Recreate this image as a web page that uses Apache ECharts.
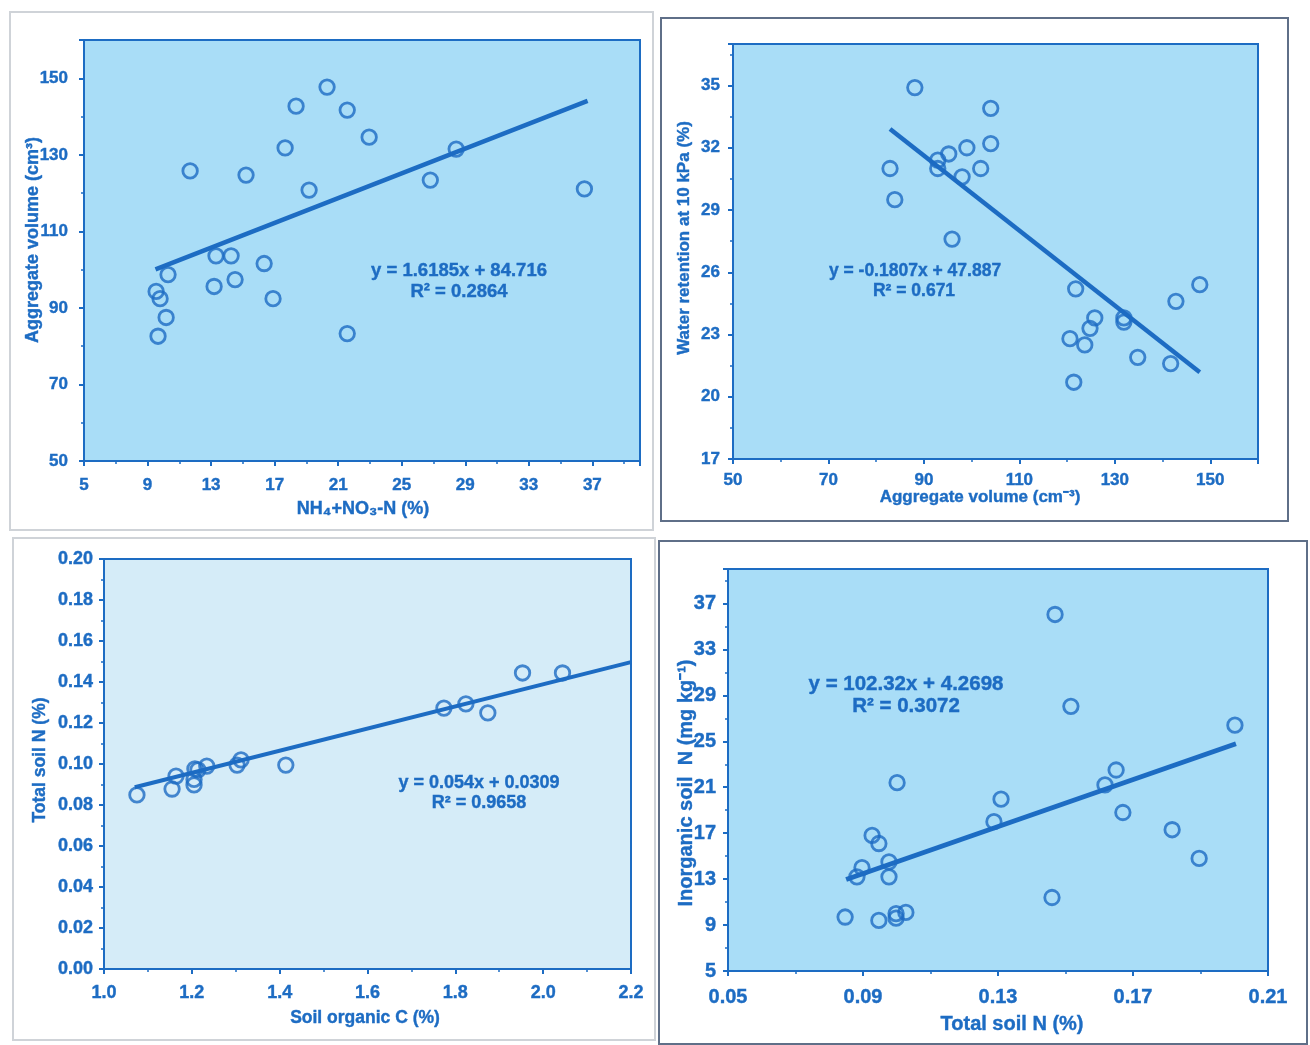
<!DOCTYPE html>
<html>
<head>
<meta charset="utf-8">
<title>Soil aggregate and nitrogen relationships</title>
<script src="https://cdn.jsdelivr.net/npm/echarts@6/dist/echarts.min.js"></script>
<style>
  html, body { margin: 0; padding: 0; background: #ffffff; }
  #chart { width: 1310px; height: 1045px; }
</style>
</head>
<body>
<div id="chart"></div>
<script>
// Panel A: NH4+NO3-N vs aggregate volume
const nitrateX = [9.54, 9.79, 9.66, 10.17, 10.29, 11.68, 13.19, 13.31, 14.26, 14.51, 15.2, 16.34, 16.9, 17.66, 18.35, 19.17, 20.3, 21.57, 21.57, 22.95, 26.8, 28.43, 36.5];
const aggVolY  = [94.3, 92.4, 82.6, 87.5, 98.7, 125.8, 95.6, 103.6, 103.6, 97.4, 124.7, 101.6, 92.4, 131.8, 142.7, 120.8, 147.7, 141.7, 83.3, 134.6, 123.4, 131.5, 121.1];
const fitA = { slope: 1.6185, intercept: 84.716, r2: '0.2864', from: 9.5, to: 36.7 };

// Panel B: aggregate volume vs water retention at 10 kPa
const aggVolX   = [88.1, 104.0, 104.0, 99.0, 95.2, 92.9, 92.9, 82.9, 101.9, 98.0, 83.9, 95.9, 121.8, 142.8, 147.8, 125.8, 131.9, 131.9, 124.8, 120.6, 123.7, 134.8, 141.7, 121.4];
const waterRetY = [34.9, 33.9, 32.2, 32.0, 31.7, 31.4, 31.0, 31.0, 31.0, 30.6, 29.5, 27.6, 25.2, 24.6, 25.4, 23.8, 23.8, 23.6, 23.3, 22.8, 22.5, 21.9, 21.6, 20.7];
const fitB = { slope: -0.1807, intercept: 47.887, r2: '0.671', from: 82.9, to: 147.8 };

// Panel C: soil organic C vs total soil N
const orgCX   = [1.075, 1.155, 1.164, 1.205, 1.205, 1.207, 1.214, 1.234, 1.303, 1.312, 1.414, 1.774, 1.824, 1.874, 1.953, 2.044];
const totalNY = [0.0849, 0.0878, 0.0941, 0.0898, 0.0925, 0.0976, 0.0971, 0.099, 0.0995, 0.102, 0.0995, 0.1273, 0.1293, 0.1249, 0.1444, 0.1444];
const fitC = { slope: 0.054, intercept: 0.0309, r2: '0.9658', from: 1.07, to: 2.2 };

// Panel D: total soil N vs inorganic soil N
const totalNX  = [0.1469, 0.1516, 0.2002, 0.165, 0.1617, 0.1001, 0.1309, 0.167, 0.1288, 0.1816, 0.0927, 0.0947, 0.1896, 0.0897, 0.0977, 0.0977, 0.0882, 0.146, 0.0847, 0.0947, 0.0998, 0.0998, 0.1027];
const inorgNY  = [36.04, 28.04, 26.4, 22.5, 21.2, 21.4, 19.96, 18.8, 18.0, 17.3, 16.8, 16.1, 14.8, 14.0, 14.5, 13.2, 13.2, 11.4, 9.7, 9.4, 10.0, 9.6, 10.1];
const fitD = { slope: 102.32, intercept: 4.2698, r2: '0.3072', from: 0.085, to: 0.2005 };

// Axis tick settings: [min, max, interval, decimals]
const ticksAx = [5, 40, 4, 0],      ticksAy = [50, 160, 20, 0];
const ticksBx = [50, 160, 20, 0],   ticksBy = [17, 37, 3, 0];
const ticksCx = [1.0, 2.2, 0.2, 1], ticksCy = [0, 0.2, 0.02, 2];
const ticksDx = [0.05, 0.21, 0.04, 2], ticksDy = [5, 40, 4, 0];

const BLUE = '#1d6cc3';
const FONT = "'Liberation Sans', Arial, sans-serif";

function zip(xs, ys) { return xs.map((x, i) => [x, ys[i]]); }
function fitLine(f) {
  return [[f.from, f.slope * f.from + f.intercept], [f.to, f.slope * f.to + f.intercept]];
}
function eqText(f) {
  const sign = f.intercept < 0 ? ' - ' : ' + ';
  return 'y = ' + f.slope + 'x' + sign + Math.abs(f.intercept);
}

function valueAxis(idx, t, margin, size) {
  const [min, max, step, dec] = t;
  return {
    type: 'value', gridIndex: idx, min: min, max: max, interval: step,
    axisLine: { show: true, onZero: false, lineStyle: { color: BLUE, width: 2 } },
    axisTick: { show: true, length: 5, lineStyle: { color: BLUE, width: 2 } },
    minorTick: { show: true, splitNumber: 2, length: 3, lineStyle: { color: BLUE, width: 1.5 } },
    splitLine: { show: false },
    axisLabel: {
      margin: margin, color: BLUE, fontFamily: FONT, fontWeight: 'bold', fontSize: size,
      textBorderColor: BLUE, textBorderWidth: 0.4,
      formatter: function (v) {
        const k = (v - min) / step;
        if (Math.abs(k - Math.round(k)) > 1e-6) return '';
        return v.toFixed(dec);
      }
    }
  };
}

const grids = [
  { left: 84,  top: 40,  width: 556, height: 421, backgroundColor: '#a9ddf7' },
  { left: 733, top: 44,  width: 525, height: 415, backgroundColor: '#a9ddf7' },
  { left: 104, top: 559, width: 527, height: 410, backgroundColor: '#d5ecf8' },
  { left: 728, top: 569, width: 540, height: 402, backgroundColor: '#a9ddf7' }
].map(g => Object.assign({ show: true, borderColor: BLUE, borderWidth: 2 }, g));

const xAxes = [valueAxis(0, ticksAx, 16, 17), valueAxis(1, ticksBx, 13, 17), valueAxis(2, ticksCx, 15, 18), valueAxis(3, ticksDx, 16, 20)];
const yAxes = [valueAxis(0, ticksAy, 16, 17), valueAxis(1, ticksBy, 13, 17), valueAxis(2, ticksCy, 11, 18), valueAxis(3, ticksDy, 12, 20)];

const panels = [
  { pts: zip(nitrateX, aggVolY), fit: fitA, lw: 4.5 },
  { pts: zip(aggVolX, waterRetY), fit: fitB, lw: 4.5 },
  { pts: zip(orgCX, totalNY), fit: fitC, lw: 4 },
  { pts: zip(totalNX, inorgNY), fit: fitD, lw: 5 }
];

const series = [];
panels.forEach((p, i) => {
  series.push({
    type: 'line', xAxisIndex: i, yAxisIndex: i, data: fitLine(p.fit),
    symbol: 'none', silent: true, z: 2,
    lineStyle: { color: BLUE, width: p.lw }
  });
  series.push({
    type: 'scatter', xAxisIndex: i, yAxisIndex: i, data: p.pts,
    symbol: 'circle', symbolSize: 14.5, z: 3,
    itemStyle: { color: 'rgba(0,0,0,0)', borderColor: BLUE, borderWidth: 2.8 }
  });
});

function txt(x, y, s, size, rot) {
  return {
    type: 'text', x: x, y: y, rotation: rot || 0, z: 10,
    style: {
      text: s, fill: BLUE, font: 'bold ' + size + 'px ' + FONT,
      stroke: BLUE, lineWidth: 0.4,
      textAlign: 'center', textVerticalAlign: 'middle'
    }
  };
}
function frame(x1, y1, x2, y2, color) {
  return {
    type: 'rect', z: -10, silent: true,
    shape: { x: x1, y: y1, width: x2 - x1, height: y2 - y1 },
    style: { fill: 'none', stroke: color, lineWidth: 2 }
  };
}

const graphics = [
  frame(10, 12, 653, 530, '#cfd3d8'),
  frame(661, 18, 1288, 521, '#5f6f88'),
  frame(13, 538, 655, 1040, '#cfd3d8'),
  frame(659, 541, 1307, 1044, '#5f6f88'),

  // axis titles
  txt(363, 509, 'NH₄+NO₃-N (%)', 18),
  txt(33, 240, 'Aggregate volume (cm³)', 18, Math.PI / 2),
  txt(980, 497, 'Aggregate volume (cm⁻³)', 17),
  txt(684, 238, 'Water retention at 10 kPa (%)', 17, Math.PI / 2),
  txt(365, 1018, 'Soil organic C (%)', 17.5),
  txt(40, 760, 'Total soil N (%)', 17.5, Math.PI / 2),
  txt(1012, 1024, 'Total soil N (%)', 20),
  txt(686, 783, 'Inorganic soil  N (mg kg⁻¹)', 20, Math.PI / 2),

  // regression equations
  txt(459, 271, eqText(fitA), 18.5), txt(459, 292, 'R² = ' + fitA.r2, 18.5),
  txt(915, 271, eqText(fitB), 17.5), txt(914, 291, 'R² = ' + fitB.r2, 17.5),
  txt(479, 783, eqText(fitC), 18), txt(479, 803, 'R² = ' + fitC.r2, 18),
  txt(906, 684, eqText(fitD), 20.5), txt(906, 706, 'R² = ' + fitD.r2, 20.5)
];

const chart = echarts.init(document.getElementById('chart'), null, { renderer: 'canvas' });
chart.setOption({
  animation: false,
  backgroundColor: '#ffffff',
  grid: grids,
  xAxis: xAxes,
  yAxis: yAxes,
  series: series,
  graphic: graphics
});
</script>
</body>
</html>
